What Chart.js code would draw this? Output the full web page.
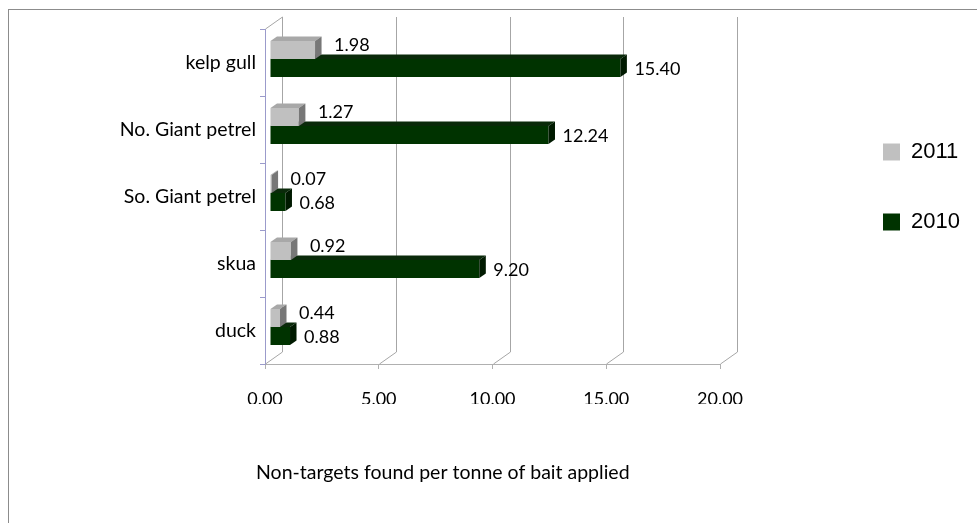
<!DOCTYPE html>
<html>
<head>
<meta charset="utf-8">
<script src="https://cdn.jsdelivr.net/npm/chart.js@4"></script>
<style>
  html, body { margin: 0; padding: 0; background: #fff; }
  #wrap { position: relative; width: 977px; height: 523px; overflow: hidden; }
  #marco { position: absolute; left: 8px; top: 9px; width: 1000px; height: 600px; border: 1px solid #8c8c8c; }
  canvas { position: absolute; left: 0; top: 0; }
</style>
</head>
<body>
<div id="wrap">
  <div id="marco"></div>
  <canvas id="myChart" width="977" height="523"></canvas>
</div>
<script>
const categorias = ['kelp gull', 'No. Giant petrel', 'So. Giant petrel', 'skua', 'duck'];
const valores2011 = [1.98, 1.27, 0.07, 0.92, 0.44];
const valores2010 = [15.40, 12.24, 0.68, 9.20, 0.88];
const ticksX = [0, 5, 10, 15, 20];
const tituloX = 'Non-targets found per tonne of bait applied';

// profundidad del fondo 3D y de las barras
const pared = { dx: 17, dy: -12 };
const barra = { dx: 6.5, dy: -4.5 };
const desplazamiento = { x: 5, y: -3.5 };
const caras = [
    { arriba: '#a8a8a8', lado: '#777777', gap: 19, dy: -5 },
    { arriba: '#0a2a0a', lado: '#001a00', gap: 14, dy: 1 }
];

const efecto3d = {
    id: 'efecto3d',
    afterLayout(chart) {
        const lg = chart.legend;
        const pad = lg.options.labels.padding;
        const dx = 883 - (lg.left + pad);
        const dy = (152 - 11 - pad) - lg.top;
        lg.left += dx; lg.right += dx;
        lg.top += dy; lg.bottom += dy;
    },
    beforeDatasetsDraw(chart) {
        const ctx = chart.ctx;
        const area = chart.chartArea;
        const x = chart.scales.x;
        ctx.save();
        ctx.strokeStyle = '#a6a6a6';
        ctx.lineWidth = 1;
        x.ticks.forEach(function (t) {
            const px = Math.round(x.getPixelForValue(t.value)) + 0.5;
            ctx.beginPath();
            ctx.moveTo(px, area.bottom);
            ctx.lineTo(px + pared.dx, area.bottom + pared.dy);
            ctx.lineTo(px + pared.dx, area.top + pared.dy);
            ctx.stroke();
        });
        ctx.beginPath();
        ctx.moveTo(area.left + 0.5, area.top);
        ctx.lineTo(area.left + pared.dx + 0.5, area.top + pared.dy);
        ctx.stroke();
        ctx.restore();
        ctx.save();
        ctx.translate(desplazamiento.x, desplazamiento.y);
    },
    afterDatasetDraw(chart, args) {
        const ctx = chart.ctx;
        const c = caras[args.index];
        args.meta.data.forEach(function (bar) {
            const p = bar.getProps(['x', 'y', 'base', 'height'], true);
            const top = p.y - p.height / 2;
            const bottom = p.y + p.height / 2;
            ctx.fillStyle = c.arriba;
            ctx.beginPath();
            ctx.moveTo(p.base, top);
            ctx.lineTo(p.base + barra.dx, top + barra.dy);
            ctx.lineTo(p.x + barra.dx, top + barra.dy);
            ctx.lineTo(p.x, top);
            ctx.closePath();
            ctx.fill();
            ctx.fillStyle = c.lado;
            ctx.beginPath();
            ctx.moveTo(p.x, top);
            ctx.lineTo(p.x + barra.dx, top + barra.dy);
            ctx.lineTo(p.x + barra.dx, bottom + barra.dy);
            ctx.lineTo(p.x, bottom);
            ctx.closePath();
            ctx.fill();
        });
    },
    afterDatasetsDraw(chart) {
        const ctx = chart.ctx;
        ctx.font = '18px Lato';
        ctx.fillStyle = '#000';
        ctx.textBaseline = 'middle';
        ctx.textAlign = 'left';
        chart.data.datasets.forEach(function (ds, i) {
            const c = caras[i];
            chart.getDatasetMeta(i).data.forEach(function (bar, j) {
                ctx.fillText(ds.data[j].toFixed(2), bar.x + c.gap, bar.y + c.dy);
            });
        });
        ctx.restore();

        const area = chart.chartArea;
        ctx.save();
        ctx.font = '19.5px Lato';
        ctx.fillStyle = '#000';
        ctx.textBaseline = 'middle';
        ctx.textAlign = 'left';
        ctx.fillText(tituloX, area.left - 9, 473);
        ctx.restore();
    }
};

const data = {
    labels: categorias,
    datasets: [
        {
            label: '2011',
            data: valores2011,
            backgroundColor: '#c0c0c0',
            borderWidth: 0
        },
        {
            label: '2010',
            data: valores2010,
            backgroundColor: '#003300',
            borderWidth: 0
        }
    ]
};

const config = {
    type: 'bar',
    data: data,
    options: {
        indexAxis: 'y',
        responsive: false,
        animation: false,
        devicePixelRatio: 1,
        categoryPercentage: 0.54,
        barPercentage: 1,
        layout: {
            padding: { left: 120, top: 29, bottom: 119, right: 122 }
        },
        scales: {
            x: {
                min: 0,
                max: 20,
                afterBuildTicks: function (scale) {
                    scale.ticks = ticksX.map(function (v) { return { value: v }; });
                },
                afterFit: function (scale) { scale.height = 40; },
                ticks: {
                    padding: 19,
                    color: '#000',
                    font: { family: 'Lato', size: 18 },
                    callback: function (v) { return Number(v).toFixed(2); }
                },
                grid: {
                    drawOnChartArea: false,
                    tickLength: 5,
                    color: '#b0b0b0'
                },
                border: { display: true, color: '#b0b0b0' }
            },
            y: {
                afterFit: function (scale) { scale.width = 145; },
                ticks: {
                    padding: 4,
                    color: '#000',
                    font: { family: 'Lato', size: 19.5 }
                },
                grid: {
                    drawOnChartArea: false,
                    tickLength: 5,
                    color: '#9b9bcb'
                },
                border: { display: true, color: '#9b9bcb' }
            }
        },
        plugins: {
            legend: {
                position: 'right',
                align: 'start',
                labels: {
                    boxWidth: 17,
                    boxHeight: 17,
                    padding: 48,
                    color: '#000',
                    font: { family: 'Liberation Sans', size: 22 }
                }
            },
            tooltip: { enabled: false }
        }
    },
    plugins: [efecto3d]
};

const ctx = document.getElementById('myChart').getContext('2d');
new Chart(ctx, config);
</script>
</body>
</html>
